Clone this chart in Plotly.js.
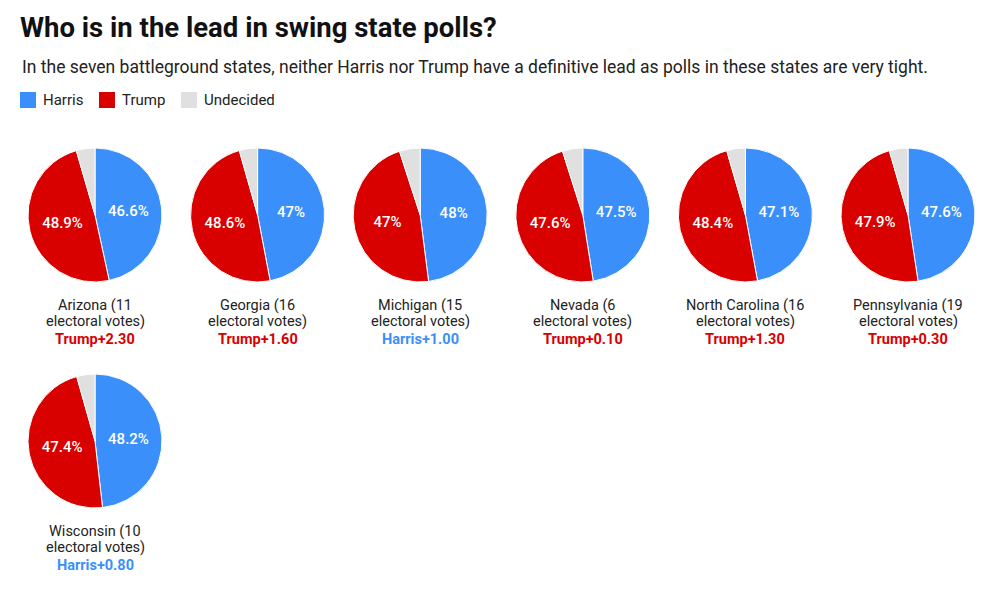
<!DOCTYPE html>
<html>
<head>
<meta charset="utf-8">
<script src="https://cdn.plot.ly/plotly-3.0.1.min.js"></script>
<style>html,body{margin:0;padding:0;background:#fff;}#chart{width:1003px;height:596px;}</style>
</head>
<body>
<div id="chart"></div>
<script>
const states = ["Arizona", "Georgia", "Michigan", "Nevada", "North Carolina", "Pennsylvania", "Wisconsin"];
const electoralVotes = [11, 16, 15, 6, 16, 19, 10];
const harris = [46.6, 47, 48, 47.5, 47.1, 47.6, 48.2];
const trump = [48.9, 48.6, 47, 47.6, 48.4, 47.9, 47.4];
const undecided = [4.5, 4.4, 5, 4.9, 4.5, 4.5, 4.4];
const leaders = ["Trump", "Trump", "Harris", "Trump", "Trump", "Trump", "Harris"];
const margins = [2.30, 1.60, 1.00, 0.10, 1.30, 0.30, 0.80];
const seriesNames = ["Harris", "Trump", "Undecided"];
const colors = ["#3a8ffa", "#d90000", "#e0e0e0"];

const W = 1003, H = 596;
const R = 67;
const col0 = 95, colStep = 162.6;
const rowCenters = [215, 441];
const FONT = "Roboto, 'Open Sans', sans-serif";
const py = (p) => 1 - p / H;
const px = (p) => p / W;

const data = [];
const annotations = [];
const shapes = [];
states.forEach((s, i) => {
  const col = i % 6, row = Math.floor(i / 6);
  const cx = col0 + col * colStep, cy = rowCenters[row];
  data.push({
    type: "pie",
    labels: seriesNames,
    values: [harris[i], trump[i], undecided[i]],
    text: [harris[i] + "%", trump[i] + "%", ""],
    textinfo: "text",
    textposition: "inside",
    insidetextorientation: "horizontal",
    textfont: {family: FONT, size: 15, color: "#ffffff", weight: 500},
    sort: false,
    direction: "clockwise",
    rotation: 0,
    marker: {colors: colors, line: {color: "#ffffff", width: 1}},
    showlegend: false,
    hoverinfo: "label+value",
    domain: {x: [px(cx - R), px(cx + R)], y: [py(cy + R), py(cy - R)]}
  });
  const lines = [
    {t: s + " (" + electoralVotes[i], c: "#222222"},
    {t: "electoral votes)", c: "#222222"},
    {t: "<b>" + leaders[i] + "+" + margins[i].toFixed(2) + "</b>", c: leaders[i] === "Trump" ? colors[1] : colors[0]}
  ];
  const ys = [cy + 90, cy + 106, cy + 124];
  lines.forEach((ln, k) => {
    annotations.push({
      xref: "paper", yref: "paper", x: px(cx), y: py(ys[k]),
      xanchor: "center", yanchor: "middle", showarrow: false,
      text: ln.t,
      font: {family: FONT, size: 14.5, color: ln.c}
    });
  });
});

// legend
const legendX = [20, 99, 181];
seriesNames.forEach((n, k) => {
  shapes.push({
    type: "rect", xref: "paper", yref: "paper",
    x0: px(legendX[k]), x1: px(legendX[k] + 16), y0: py(108), y1: py(92),
    fillcolor: colors[k], line: {width: 0}
  });
  annotations.push({
    xref: "paper", yref: "paper", x: px(legendX[k] + 21), y: py(100),
    xanchor: "left", yanchor: "middle", showarrow: false,
    text: n, font: {family: FONT, size: 15, color: "#222222"}
  });
});

annotations.push({
  xref: "paper", yref: "paper", x: px(20), y: py(67), xanchor: "left", yanchor: "middle",
  showarrow: false, align: "left",
  text: "In the seven battleground states, neither Harris nor Trump have a definitive lead as polls in these states are very tight.",
  font: {family: FONT, size: 17.5, color: "#222222"}
});

const layout = {
  width: W, height: H,
  margin: {l: 0, r: 0, t: 0, b: 0},
  paper_bgcolor: "#ffffff",
  title: {
    text: "<b>Who is in the lead in swing state polls?</b>",
    x: px(20), xanchor: "left", xref: "paper",
    y: py(27), yanchor: "middle",
    font: {family: FONT, size: 27.5, color: "#111111"}
  },
  uniformtext: {mode: "show", minsize: 15},
  showlegend: false,
  shapes: shapes,
  annotations: annotations
};

Plotly.newPlot("chart", data, layout, {displayModeBar: false, staticPlot: true});
</script>
</body>
</html>
